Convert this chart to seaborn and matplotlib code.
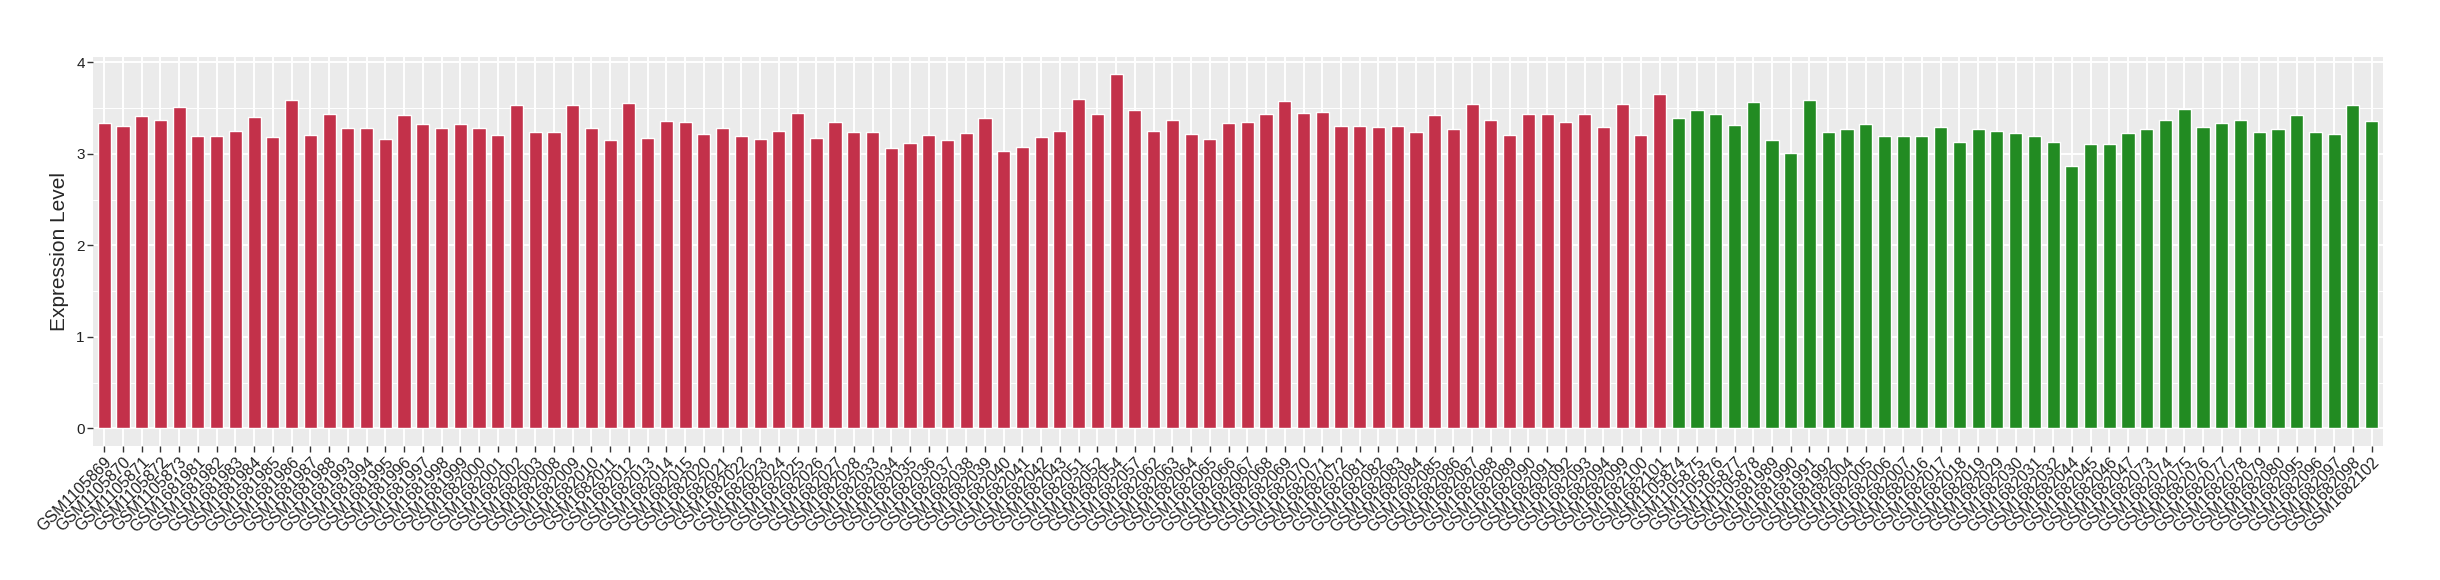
import numpy as np
import pandas as pd
import matplotlib
matplotlib.use("Agg")
import matplotlib.pyplot as plt
import seaborn as sns
from matplotlib.ticker import MultipleLocator

# sample ids, first group (red)
red_ids = [
    "GSM1105869", "GSM1105870", "GSM1105871", "GSM1105872", "GSM1105873",
    "GSM1681981", "GSM1681982", "GSM1681983", "GSM1681984", "GSM1681985",
    "GSM1681986", "GSM1681987", "GSM1681988", "GSM1681993", "GSM1681994",
    "GSM1681995", "GSM1681996", "GSM1681997", "GSM1681998", "GSM1681999",
    "GSM1682000", "GSM1682001", "GSM1682002", "GSM1682003", "GSM1682008",
    "GSM1682009", "GSM1682010", "GSM1682011", "GSM1682012", "GSM1682013",
    "GSM1682014", "GSM1682015", "GSM1682020", "GSM1682021", "GSM1682022",
    "GSM1682023", "GSM1682024", "GSM1682025", "GSM1682026", "GSM1682027",
    "GSM1682028", "GSM1682033", "GSM1682034", "GSM1682035", "GSM1682036",
    "GSM1682037", "GSM1682038", "GSM1682039", "GSM1682040", "GSM1682041",
    "GSM1682042", "GSM1682043", "GSM1682051", "GSM1682052", "GSM1682054",
    "GSM1682057", "GSM1682062", "GSM1682063", "GSM1682064", "GSM1682065",
    "GSM1682066", "GSM1682067", "GSM1682068", "GSM1682069", "GSM1682070",
    "GSM1682071", "GSM1682072", "GSM1682081", "GSM1682082", "GSM1682083",
    "GSM1682084", "GSM1682085", "GSM1682086", "GSM1682087", "GSM1682088",
    "GSM1682089", "GSM1682090", "GSM1682091", "GSM1682092", "GSM1682093",
    "GSM1682094", "GSM1682099", "GSM1682100", "GSM1682101",
]
red_vals = [
    3.34, 3.30, 3.41, 3.37, 3.51, 3.20, 3.20, 3.25, 3.40, 3.18,
    3.59, 3.21, 3.43, 3.28, 3.28, 3.16, 3.42, 3.33, 3.28, 3.33,
    3.28, 3.21, 3.53, 3.24, 3.24, 3.53, 3.28, 3.15, 3.56, 3.17,
    3.36, 3.35, 3.22, 3.28, 3.20, 3.16, 3.25, 3.45, 3.17, 3.35,
    3.24, 3.24, 3.06, 3.12, 3.21, 3.15, 3.23, 3.39, 3.03, 3.07,
    3.18, 3.25, 3.60, 3.44, 3.87, 3.48, 3.25, 3.37, 3.22, 3.16,
    3.34, 3.35, 3.44, 3.58, 3.45, 3.46, 3.30, 3.30, 3.29, 3.30,
    3.24, 3.42, 3.27, 3.54, 3.37, 3.21, 3.43, 3.43, 3.35, 3.44,
    3.29, 3.54, 3.21, 3.65,
]

# second group (green)
green_ids = [
    "GSM1105874", "GSM1105875", "GSM1105876", "GSM1105877", "GSM1105878",
    "GSM1681989", "GSM1681990", "GSM1681991", "GSM1681992", "GSM1682004",
    "GSM1682005", "GSM1682006", "GSM1682007", "GSM1682016", "GSM1682017",
    "GSM1682018", "GSM1682019", "GSM1682029", "GSM1682030", "GSM1682031",
    "GSM1682032", "GSM1682044", "GSM1682045", "GSM1682046", "GSM1682047",
    "GSM1682073", "GSM1682074", "GSM1682075", "GSM1682076", "GSM1682077",
    "GSM1682078", "GSM1682079", "GSM1682080", "GSM1682095", "GSM1682096",
    "GSM1682097", "GSM1682098", "GSM1682102",
]
green_vals = [
    3.39, 3.48, 3.43, 3.31, 3.57, 3.15, 3.01, 3.59, 3.24, 3.27,
    3.33, 3.19, 3.20, 3.20, 3.29, 3.13, 3.27, 3.25, 3.23, 3.20,
    3.13, 2.87, 3.11, 3.11, 3.23, 3.27, 3.37, 3.49, 3.29, 3.34,
    3.37, 3.24, 3.27, 3.42, 3.24, 3.22, 3.53, 3.36,
]

df = pd.DataFrame({
    "sample": red_ids + green_ids,
    "value": red_vals + green_vals,
    "group": ["A"] * len(red_ids) + ["B"] * len(green_ids),
})

sns.set_theme(style="darkgrid", rc={
    "axes.facecolor": "#EBEBEB",
    "grid.color": "white",
    "axes.edgecolor": "#EBEBEB",
})
plt.rcParams["font.family"] = ["Liberation Sans", "DejaVu Sans"]

fig = plt.figure(figsize=(24.4, 5.8), dpi=100)
ax = fig.add_axes([0.0381, 0.231, 0.9385, 0.6707])

sns.barplot(data=df, x="sample", y="value", hue="group", order=df["sample"],
            palette={"A": "#C3314A", "B": "#228B22"}, dodge=False,
            width=0.7, errorbar=None, legend=False, saturation=1, ax=ax)

ax.set_xlim(-0.6, len(df) - 0.4)
ax.set_ylim(-0.193, 4.058)
ax.yaxis.set_major_locator(MultipleLocator(1))
ax.yaxis.set_minor_locator(MultipleLocator(0.5))
ax.grid(True, which="major", color="white", linewidth=1.4)
ax.grid(True, which="minor", axis="y", color="white", linewidth=0.7)
ax.set_axisbelow(True)
for s in ax.spines.values():
    s.set_visible(False)

ax.tick_params(axis="both", which="major", length=4, width=1, color="#333333",
               bottom=True, left=True)
ax.tick_params(axis="y", which="minor", length=0)
ax.tick_params(axis="y", labelsize=11, pad=2, labelcolor="#222222")
ax.tick_params(axis="x", labelsize=11.5, pad=2, labelcolor="#222222")
plt.setp(ax.get_xticklabels(), rotation=45, ha="right", rotation_mode="anchor")

ax.set_xlabel("")
ax.set_ylabel("Expression Level", fontsize=15, labelpad=5)

fig.savefig("out.png", dpi=100, facecolor="white")
